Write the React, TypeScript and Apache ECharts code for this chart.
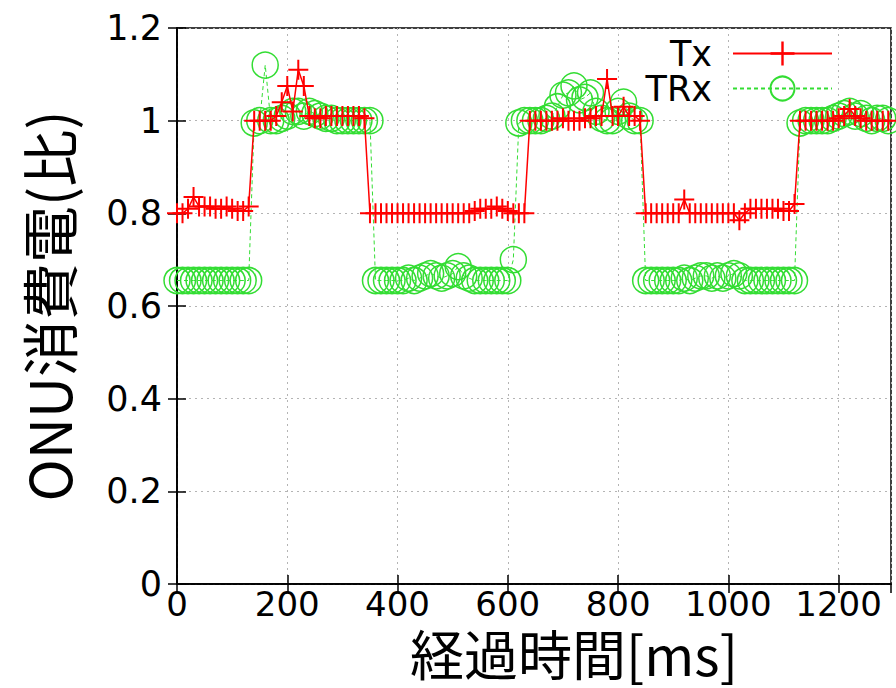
import React, { useEffect, useRef } from 'react';
import * as echarts from 'echarts';

// elapsed time [ms]
const timeMs = [
  0, 10, 20, 30, 40, 50, 60, 70, 80, 90,
  100, 110, 120, 130, 140, 150, 160, 170, 180, 190,
  200, 210, 220, 230, 240, 250, 260, 270, 280, 290,
  300, 310, 320, 330, 340, 350, 360, 370, 380, 390,
  400, 410, 420, 430, 440, 450, 460, 470, 480, 490,
  500, 510, 520, 530, 540, 550, 560, 570, 580, 590,
  600, 610, 620, 630, 640, 650, 660, 670, 680, 690,
  700, 710, 720, 730, 740, 750, 760, 770, 780, 790,
  800, 810, 820, 830, 840, 850, 860, 870, 880, 890,
  900, 910, 920, 930, 940, 950, 960, 970, 980, 990,
  1000, 1010, 1020, 1030, 1040, 1050, 1060, 1070, 1080, 1090,
  1100, 1110, 1120, 1130, 1140, 1150, 1160, 1170, 1180, 1190,
  1200, 1210, 1220, 1230, 1240, 1250, 1260, 1270, 1280, 1290,
];

// Tx: ONU power consumption ratio
const txValues = [
  0.80, 0.80, 0.81, 0.835, 0.815, 0.815, 0.815, 0.81, 0.81, 0.815,
  0.81, 0.805, 0.805, 0.815, 1.0, 1.0, 1.0, 1.0, 1.01, 1.04,
  1.075, 1.02, 1.11, 1.075, 1.01, 1.005, 1.005, 1.01, 1.01, 1.01,
  1.01, 1.01, 1.01, 1.01, 1.005, 0.80, 0.80, 0.80, 0.80, 0.80,
  0.80, 0.80, 0.80, 0.80, 0.80, 0.80, 0.80, 0.80, 0.80, 0.80,
  0.80, 0.80, 0.80, 0.80, 0.805, 0.81, 0.81, 0.81, 0.815, 0.81,
  0.805, 0.80, 0.80, 0.80, 1.0, 1.0, 1.0, 1.0, 1.0, 1.0,
  1.005, 1.0, 1.0, 1.0, 1.005, 1.005, 1.01, 1.01, 1.09, 1.01,
  1.01, 1.03, 1.01, 1.01, 1.0, 0.80, 0.80, 0.80, 0.80, 0.80,
  0.80, 0.80, 0.83, 0.80, 0.80, 0.80, 0.80, 0.80, 0.80, 0.80,
  0.80, 0.80, 0.785, 0.80, 0.81, 0.81, 0.81, 0.81, 0.81, 0.81,
  0.805, 0.805, 0.82, 1.0, 1.0, 1.0, 1.0, 1.0, 1.0, 1.0,
  1.005, 1.01, 1.025, 1.01, 1.005, 1.0, 1.0, 1.0, 1.0, 1.0,
];

// TRx: ONU power consumption ratio
const trxValues = [
  0.655, 0.655, 0.655, 0.655, 0.655, 0.655, 0.655, 0.655, 0.655, 0.655,
  0.655, 0.655, 0.655, 0.655, 0.995, 1.0, 1.12, 1.0, 1.0, 1.005,
  1.01, 1.02, 1.02, 1.01, 1.02, 1.015, 1.01, 1.005, 1.005, 1.0,
  1.0, 1.0, 1.0, 1.0, 1.0, 1.0, 0.655, 0.655, 0.655, 0.655,
  0.655, 0.655, 0.66, 0.655, 0.66, 0.665, 0.67, 0.665, 0.66, 0.665,
  0.67, 0.685, 0.665, 0.66, 0.655, 0.655, 0.655, 0.655, 0.655, 0.655,
  0.655, 0.70, 0.995, 1.0, 1.0, 1.0, 1.0, 1.005, 1.01, 1.03,
  1.055, 1.06, 1.075, 1.045, 1.05, 1.06, 1.02, 1.005, 1.0, 1.0,
  1.02, 1.04, 1.01, 1.0, 1.0, 0.655, 0.655, 0.655, 0.655, 0.655,
  0.655, 0.655, 0.66, 0.655, 0.66, 0.665, 0.665, 0.66, 0.665, 0.66,
  0.665, 0.67, 0.665, 0.655, 0.655, 0.655, 0.655, 0.655, 0.655, 0.655,
  0.655, 0.655, 0.655, 0.995, 1.0, 1.0, 1.0, 1.0, 1.0, 1.005,
  1.01, 1.015, 1.02, 1.01, 1.015, 1.005, 1.0, 1.005, 1.005, 1.0,
];

const seriesNames = ['Tx', 'TRx'];
const xAxisTitle = '経過時間[ms]';
const yAxisTitle = 'ONU消費電(比)';

const NUM_FONT = '"DejaVu Sans", sans-serif';
const CJK_FONT = '"Noto Sans CJK JP", "Noto Sans", sans-serif';
const PLUS = 'path://M-10,-1H10V1H-10Z M-1,-10H1V10H-1Z';

export default function App() {
  const ref = useRef<HTMLDivElement>(null);

  useEffect(() => {
    document.body.style.margin = '0';
    if (!ref.current) return;
    const chart = echarts.init(ref.current, undefined, { renderer: 'svg' });

    const axisLine = { show: true, lineStyle: { color: '#000', width: 1.5 } };
    const axisTick = { show: true, inside: true, length: 9, lineStyle: { color: '#000', width: 1.5 } };
    const splitLine = { show: true, lineStyle: { color: '#b4b4b4', type: [2, 4], width: 1 } };

    chart.setOption({
      animation: false,
      backgroundColor: '#fff',
      grid: {
        left: 177, right: 5, top: 28, bottom: 104,
        show: true, borderColor: '#000', borderWidth: 1.5, backgroundColor: 'transparent',
      },
      legend: {
        data: seriesNames,
        orient: 'vertical',
        right: 58,
        top: 31,
        align: 'right',
        itemWidth: 99,
        itemHeight: 30,
        itemGap: 0,
        textStyle: { fontFamily: NUM_FONT, fontSize: 35, color: '#000', padding: [0, 16, 0, 0] },
      },
      xAxis: [
        {
          type: 'value', min: 0, max: 1295, interval: 200, position: 'bottom',
          name: xAxisTitle, nameLocation: 'middle', nameGap: 31,
          nameTextStyle: {
            fontFamily: CJK_FONT, fontSize: 54, lineHeight: 54, color: '#000', padding: [0, 0, 0, 80],
          },
          axisLine, axisTick,
          axisLabel: {
            fontFamily: NUM_FONT, fontSize: 34, lineHeight: 28, color: '#000', margin: 6, showMaxLabel: false,
            formatter: (v: number) => (v % 200 === 0 ? String(v) : ''),
          },
          splitLine,
        },
        {
          type: 'value', min: 0, max: 1295, interval: 200, position: 'top',
          axisLine, axisTick, axisLabel: { show: false }, splitLine: { show: false },
        },
      ],
      yAxis: [
        {
          type: 'value', min: 0, max: 1.2, interval: 0.2, position: 'left',
          name: yAxisTitle, nameLocation: 'middle', nameGap: 102, nameRotate: 90,
          nameTextStyle: { fontFamily: CJK_FONT, fontSize: 57, color: '#000' },
          axisLine, axisTick,
          axisLabel: { fontFamily: NUM_FONT, fontSize: 35, color: '#000', margin: 15 },
          splitLine,
        },
        {
          type: 'value', min: 0, max: 1.2, interval: 0.2, position: 'right',
          axisLine, axisTick, axisLabel: { show: false }, splitLine: { show: false },
        },
      ],
      series: [
        {
          name: seriesNames[0], type: 'line', xAxisIndex: 0, yAxisIndex: 0, z: 3,
          data: timeMs.map((t, i) => [t, txValues[i]]),
          symbol: PLUS, symbolSize: 20,
          itemStyle: { color: '#ff0000' },
          lineStyle: { color: '#ff0000', width: 1.5 },
        },
        {
          name: seriesNames[1], type: 'line', xAxisIndex: 0, yAxisIndex: 0, z: 2,
          data: timeMs.map((t, i) => [t, trxValues[i]]),
          symbol: 'circle', symbolSize: 26,
          itemStyle: { color: 'rgba(0,0,0,0)', borderColor: '#33dd33', borderWidth: 1.5 },
          lineStyle: { color: '#33dd33', width: 1, type: [4, 3] },
        },
      ],
    });

    return () => chart.dispose();
  }, []);

  return <div ref={ref} style={{ width: 896, height: 688 }} />;
}
